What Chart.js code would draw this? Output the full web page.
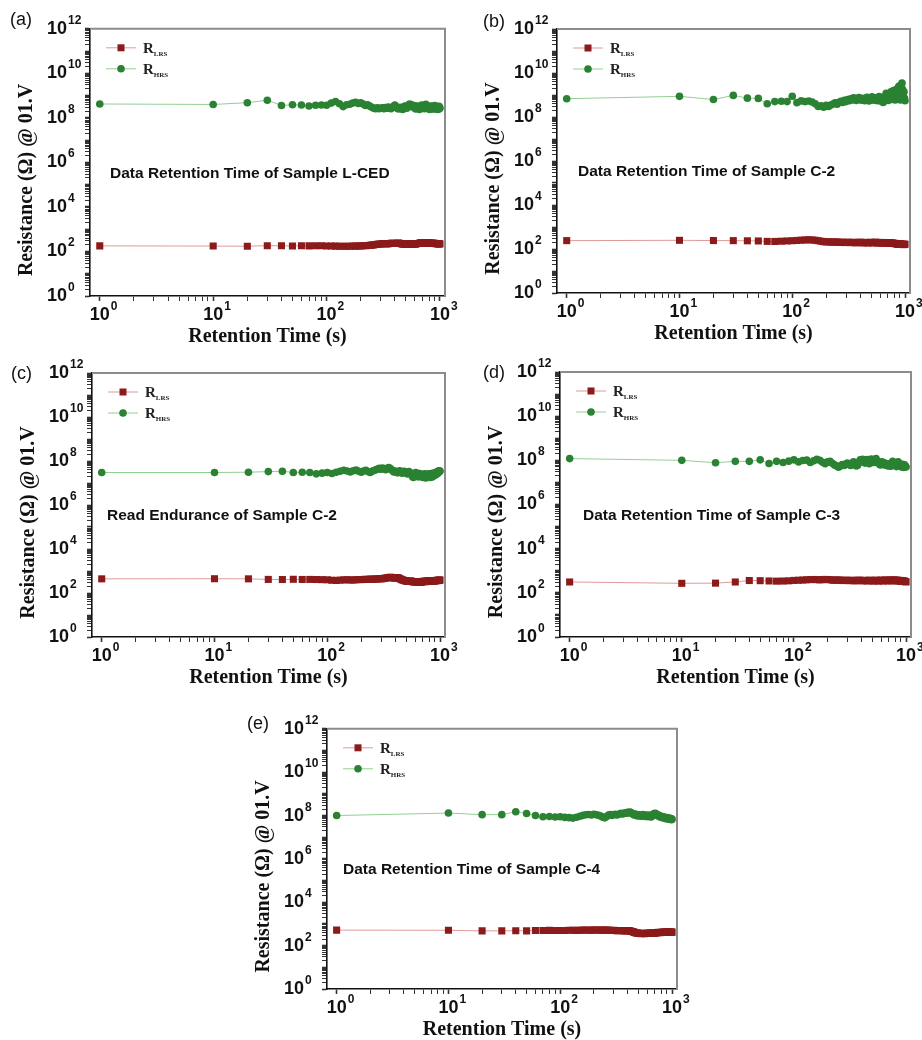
<!DOCTYPE html>
<html>
<head>
<meta charset="utf-8">
<script src="https://cdn.jsdelivr.net/npm/chart.js@4.4.1/dist/chart.umd.min.js"></script>
<style>
body{margin:0;background:#fff;}
#fig{position:relative;width:922px;height:1040px;overflow:hidden;background:#fff;}
#fig canvas{position:absolute;}
.tag{position:absolute;font:18px 'Liberation Sans',Arial,sans-serif;color:#111;line-height:20px;}
</style>
</head>
<body>
<div id="fig">
  <canvas id="cA" width="460" height="350" style="left:0;top:0"></canvas>
  <canvas id="cB" width="462" height="350" style="left:460px;top:0"></canvas>
  <canvas id="cC" width="460" height="350" style="left:0;top:340px"></canvas>
  <canvas id="cD" width="462" height="350" style="left:460px;top:340px"></canvas>
  <canvas id="cE" width="460" height="342" style="left:230px;top:700px"></canvas>
  <div class="tag" style="left:10px;top:9px">(a)</div>
  <div class="tag" style="left:483px;top:11px">(b)</div>
  <div class="tag" style="left:11px;top:363px">(c)</div>
  <div class="tag" style="left:483px;top:362px">(d)</div>
  <div class="tag" style="left:247px;top:713px">(e)</div>
</div>
<script>
// retention time (s)
const times=[1,
  10,20,30,40,50,60,70,80,90,100,
  110,120,130,140,150,160,170,180,190,200,
  210,220,230,240,250,260,270,280,290,300,
  310,320,330,340,350,360,370,380,390,400,
  410,420,430,440,450,460,470,480,490,500,
  510,520,530,540,550,560,570,580,590,600,
  610,620,630,640,650,660,670,680,690,700,
  710,720,730,740,750,760,770,780,790,800,
  810,820,830,840,850,860,870,880,890,900,
  910,920,930,940,950,960,970,980,990,1000];

// (a) sample L-CED
const lrsA=[178,
  175,172,182,180,176,181,178,180,179,177,
  176,174,172,170,171,173,175,174,176,178,
  180,182,185,188,192,198,205,210,214,218,
  222,226,224,220,225,230,234,236,232,228,
  230,235,238,233,226,220,215,212,210,214,
  216,218,215,212,214,218,222,220,216,214,
  218,222,226,230,228,232,238,244,246,242,
  240,248,252,246,242,245,250,244,238,236,
  240,235,230,228,234,238,232,226,230,236,
  228,222,226,230,224,220,225,228,222,218];
const hrsA=[4.2e8,
  4.0e8,4.8e8,6.2e8,3.6e8,3.9e8,3.8e8,3.4e8,3.7e8,3.8e8,3.7e8,
  4.6e8,5.4e8,4.3e8,3.2e8,3.9e8,4.1e8,4.6e8,5.0e8,4.4e8,4.7e8,
  4.2e8,3.6e8,3.9e8,3.4e8,3.0e8,2.7e8,2.6e8,2.8e8,2.6e8,2.7e8,
  2.8e8,2.6e8,2.9e8,2.7e8,3.1e8,2.8e8,2.6e8,3.0e8,3.3e8,3.8e8,
  3.2e8,2.7e8,2.5e8,2.8e8,3.0e8,2.6e8,2.4e8,2.9e8,3.4e8,3.1e8,
  2.7e8,3.3e8,3.9e8,4.2e8,3.6e8,3.9e8,3.4e8,3.0e8,3.6e8,2.8e8,
  2.5e8,2.9e8,3.4e8,3.0e8,2.6e8,2.4e8,2.9e8,3.3e8,3.8e8,3.2e8,
  2.7e8,3.1e8,2.6e8,3.5e8,4.1e8,3.6e8,3.0e8,2.7e8,3.2e8,2.9e8,
  2.4e8,2.8e8,3.4e8,3.0e8,2.6e8,3.3e8,2.8e8,2.5e8,3.1e8,3.6e8,
  2.9e8,2.5e8,2.8e8,3.2e8,2.7e8,2.4e8,2.9e8,3.3e8,2.6e8,2.8e8];

// (b) sample C-2, retention
const lrsB=[240,
  248,242,240,236,232,222,220,226,232,238,
  245,252,258,262,258,250,238,226,215,210,
  212,208,205,210,206,202,204,200,196,200,
  204,198,194,198,202,196,192,196,200,204,
  198,194,190,196,200,194,190,196,202,198,
  194,190,196,200,204,198,192,188,194,198,
  192,188,194,198,192,186,190,196,192,186,
  182,188,192,186,180,184,188,182,178,180,
  176,180,174,170,176,172,168,172,168,165,
  168,164,162,166,160,164,162,158,162,165];
const hrsB=[6.8e8,
  8.7e8,6.2e8,9.6e8,7.2e8,7.0e8,4.0e8,5.0e8,5.2e8,5.0e8,8.8e8,
  4.5e8,5.4e8,5.0e8,5.3e8,4.8e8,4.0e8,3.0e8,3.2e8,2.8e8,3.4e8,
  3.0e8,3.5e8,3.9e8,4.4e8,3.8e8,4.6e8,5.2e8,4.6e8,5.8e8,5.0e8,
  6.2e8,5.5e8,6.8e8,5.9e8,7.4e8,6.3e8,5.6e8,6.9e8,7.6e8,6.5e8,
  5.8e8,7.0e8,6.4e8,5.5e8,6.8e8,7.9e8,6.6e8,5.4e8,6.1e8,7.3e8,
  8.2e8,6.9e8,5.8e8,6.5e8,7.4e8,6.2e8,5.5e8,7.1e8,8.4e8,7.0e8,
  6.0e8,5.1e8,6.4e8,4.6e8,5.8e8,7.0e8,8.8e8,1.2e9,9.5e8,7.0e8,
  5.6e8,8.0e8,6.5e8,1.05e9,1.4e9,9.0e8,6.2e8,1.1e9,1.6e9,1.2e9,
  8.0e8,6.0e8,1.3e9,1.8e9,1.0e9,7.0e8,2.0e9,2.5e9,1.5e9,8.5e8,
  6.0e8,2.2e9,3.0e9,3.5e9,1.8e9,9.0e8,6.5e8,1.4e9,7.0e8,5.5e8];

// (c) sample C-2, read endurance
const lrsC=[440,
  445,440,415,410,420,412,415,410,405,398,
  380,372,385,395,400,392,388,400,410,405,
  412,420,415,425,430,420,432,440,445,438,
  450,462,475,490,505,520,510,498,480,470,
  490,500,480,450,420,400,385,370,360,352,
  345,340,335,348,352,340,330,322,318,325,
  330,320,312,318,325,310,305,312,320,330,
  338,345,332,325,338,350,342,335,348,355,
  360,350,342,355,365,352,345,358,370,362,
  355,368,375,362,370,380,372,385,378,390];
const hrsC=[3.0e7,
  3.0e7,3.1e7,3.3e7,3.4e7,3.0e7,3.1e7,3.0e7,2.6e7,2.8e7,3.0e7,
  2.7e7,3.1e7,3.4e7,3.8e7,3.5e7,3.2e7,3.6e7,3.9e7,3.4e7,3.1e7,
  3.5e7,3.8e7,3.3e7,3.0e7,3.4e7,3.7e7,4.0e7,4.3e7,4.6e7,4.2e7,
  4.8e7,4.4e7,4.0e7,4.5e7,5.0e7,4.6e7,4.1e7,3.6e7,3.2e7,3.5e7,
  3.2e7,2.9e7,3.3e7,3.6e7,3.1e7,2.8e7,3.0e7,3.4e7,3.1e7,2.9e7,
  2.6e7,2.9e7,3.3e7,3.0e7,2.6e7,2.3e7,2.0e7,1.8e7,2.2e7,2.6e7,
  3.0e7,2.5e7,2.1e7,1.9e7,2.3e7,2.7e7,2.2e7,1.9e7,2.4e7,2.1e7,
  1.8e7,2.2e7,2.6e7,2.0e7,1.7e7,2.1e7,2.5e7,2.0e7,2.3e7,2.6e7,
  2.1e7,1.8e7,2.2e7,2.7e7,2.3e7,1.9e7,2.4e7,2.8e7,2.2e7,2.5e7,
  2.9e7,2.4e7,2.8e7,3.2e7,2.7e7,3.4e7,3.0e7,3.6e7,3.3e7,3.5e7];

// (d) sample C-3
const lrsD=[310,
  270,275,310,360,355,345,338,342,350,365,
  372,380,390,398,402,395,388,395,405,400,
  392,380,372,378,385,370,360,368,375,362,
  355,365,372,360,350,358,368,375,366,358,
  350,362,370,358,348,356,366,372,362,352,
  345,355,365,372,364,352,346,358,368,375,
  366,356,348,360,370,378,368,356,350,362,
  372,380,370,358,350,362,374,382,370,360,
  352,364,376,368,356,346,358,366,354,344,
  338,348,356,344,335,342,330,325,320,315];
const hrsD=[1.2e8,
  1.0e8,7.8e7,9.0e7,9.0e7,1.05e8,7.2e7,9.0e7,8.0e7,9.2e7,1.05e8,
  8.5e7,9.8e7,1.02e8,8.0e7,9.5e7,1.1e8,1.0e8,8.2e7,7.0e7,8.5e7,
  9.0e7,7.4e7,6.2e7,5.6e7,4.9e7,5.5e7,6.4e7,5.8e7,6.8e7,7.5e7,
  6.5e7,5.8e7,7.2e7,8.5e7,7.0e7,5.6e7,6.0e7,8.0e7,1.05e8,9.2e7,
  1.1e8,8.4e7,7.5e7,9.6e7,1.08e8,8.2e7,7.0e7,9.5e7,1.15e8,1.0e8,
  8.0e7,9.0e7,1.08e8,1.2e8,9.4e7,7.6e7,8.5e7,7.0e7,6.2e7,7.4e7,
  8.6e7,7.2e7,6.4e7,7.8e7,6.8e7,6.0e7,7.0e7,6.5e7,5.6e7,6.2e7,
  7.0e7,6.0e7,5.4e7,6.6e7,7.8e7,9.0e7,8.0e7,6.4e7,5.8e7,6.8e7,
  6.0e7,5.2e7,6.4e7,7.2e7,8.6e7,7.4e7,6.2e7,5.6e7,6.5e7,5.4e7,
  5.0e7,5.8e7,6.6e7,5.2e7,4.8e7,5.6e7,6.2e7,5.0e7,5.4e7,5.0e7];

// (e) sample C-4
const lrsE=[520,
  510,480,480,490,480,500,495,505,500,498,
  502,508,512,505,510,518,522,515,520,526,
  530,522,515,520,528,520,512,505,498,505,
  500,494,488,495,500,492,486,480,488,495,
  490,478,465,450,430,410,395,385,380,372,
  368,362,358,365,370,362,355,360,368,374,
  370,365,372,378,372,365,370,378,385,380,
  388,395,402,396,405,412,406,398,404,410,
  402,410,418,412,405,414,420,412,406,416,
  420,412,418,424,416,410,418,422,414,420];
const hrsE=[1.0e8,
  1.3e8,1.1e8,1.1e8,1.5e8,1.25e8,1.0e8,8.8e7,9.0e7,8.6e7,8.8e7,
  8.2e7,8.0e7,7.6e7,8.4e7,9.2e7,1.02e8,1.08e8,1.12e8,1.06e8,1.14e8,
  1.08e8,1.02e8,9.4e7,8.4e7,7.8e7,9.0e7,1.04e8,1.1e8,1.02e8,1.08e8,
  1.14e8,1.06e8,1.12e8,1.2e8,1.26e8,1.18e8,1.24e8,1.32e8,1.28e8,1.4e8,
  1.32e8,1.44e8,1.36e8,1.24e8,1.12e8,1.06e8,1.18e8,1.04e8,9.6e7,1.02e8,
  1.08e8,9.8e7,9.2e7,1.04e8,1.1e8,9.6e7,9.0e7,9.8e7,1.06e8,9.4e7,
  8.8e7,9.6e7,1.04e8,9.2e7,8.6e7,9.4e7,1.02e8,1.12e8,1.24e8,1.16e8,
  1.28e8,1.14e8,1.02e8,1.1e8,1.02e8,9.2e7,1.0e8,9.0e7,8.4e7,9.2e7,
  8.6e7,8.0e7,8.8e7,8.2e7,7.6e7,8.4e7,7.8e7,7.2e7,7.6e7,8.0e7,
  7.4e7,7.0e7,7.6e7,7.2e7,6.8e7,7.4e7,6.6e7,7.0e7,6.4e7,6.8e7];

// tick labels (powers of ten)
const xLabelExps=[0,1,2,3];
const yLabelExps=[0,2,4,6,8,10,12];

const isDecade=v=>Math.abs(Math.log10(v)-Math.round(Math.log10(v)))<1e-6;

const LRS_DOT='#8b1a1a', LRS_LINE='rgba(214,120,120,0.75)';
const HRS_DOT='#2a8232', HRS_LINE='rgba(110,190,110,0.75)';
const SANS="'Liberation Sans', Arial, sans-serif";
const SERIF="'Liberation Serif', 'Times New Roman', serif";

function logTicks(lo,hi){
  const out=[];
  for(let e=lo;e<hi;e++) for(let m=1;m<10;m++) out.push(m*Math.pow(10,e));
  out.push(Math.pow(10,hi));
  return out;
}

const framePlugin={id:'frame',afterDraw(c){
  const {ctx,chartArea:a}=c;
  ctx.save();
  ctx.strokeStyle='#8c8c8c';ctx.lineWidth=2;
  ctx.beginPath();ctx.moveTo(a.left,a.top);ctx.lineTo(a.right,a.top);ctx.lineTo(a.right,a.bottom);ctx.stroke();
  ctx.restore();
}};

// exponents next to the "10" tick labels
const expoPlugin={id:'expo',afterDraw(c){
  const ctx=c.ctx;
  ctx.save();
  ['x','y'].forEach(k=>{
    const s=c.scales[k];
    s.getLabelItems().forEach(it=>{
      if(it.label!=='10') return;
      const [tx,ty]=it.options.translation;
      const v=s.getValueForPixel(k==='x'?tx:ty);
      const e=Math.round(Math.log10(v));
      ctx.font=it.font.string;
      ctx.textBaseline=it.options.textBaseline;
      const m=ctx.measureText('10');
      const glyphTop=ty+it.textOffset-m.actualBoundingBoxAscent;
      const right=it.options.textAlign==='center'?tx+m.width/2:tx;
      ctx.font='bold 12px '+SANS;
      ctx.textBaseline='alphabetic';ctx.textAlign='left';ctx.fillStyle='#111';
      ctx.fillText(String(e),right+1,glyphTop+3);
    });
  });
  ctx.restore();
}};

const keyPlugin={id:'key',afterDraw(c){
  const {ctx,chartArea:a}=c;
  ctx.save();
  c.data.datasets.forEach((ds,i)=>{
    const y=a.top+19+i*21, x0=a.left+16;
    ctx.strokeStyle=ds.borderColor;ctx.lineWidth=1;
    ctx.beginPath();ctx.moveTo(x0,y);ctx.lineTo(x0+30,y);ctx.stroke();
    ctx.fillStyle=ds.pointBackgroundColor;
    if(ds.pointStyle==='rect'){ctx.fillRect(x0+11.5,y-3.5,7,7);}
    else{ctx.beginPath();ctx.arc(x0+15,y,3.8,0,Math.PI*2);ctx.fill();}
    ctx.fillStyle='#222';ctx.textBaseline='alphabetic';
    ctx.font='bold 15px '+SERIF;
    ctx.fillText('R',x0+37,y+5);
    const w=ctx.measureText('R').width;
    ctx.font='bold 7px '+SERIF;
    ctx.fillText(ds.label,x0+37+w,y+8);
  });
  ctx.restore();
}};

const notePlugin={id:'note',afterDraw(c,args,opts){
  const {ctx,chartArea:a,scales}=c;
  ctx.save();
  ctx.font='bold 15.5px '+SANS;ctx.fillStyle='#111';ctx.textBaseline='middle';
  ctx.fillText(opts.text,a.left+opts.dx,scales.y.getPixelForValue(Math.pow(10,5.5)));
  ctx.restore();
}};

const panels=[
  {id:'cA',lrs:lrsA,hrs:hrsA,note:'Data Retention Time of Sample L-CED',dx:20,pad:{left:0,top:27,right:15,bottom:1}},
  {id:'cB',lrs:lrsB,hrs:hrsB,note:'Data Retention Time of Sample C-2',dx:21,pad:{left:7,top:29,right:12,bottom:4}},
  {id:'cC',lrs:lrsC,hrs:hrsC,note:'Read Endurance of Sample C-2',dx:15,pad:{left:2,top:33,right:15,bottom:0}},
  {id:'cD',lrs:lrsD,hrs:hrsD,note:'Data Retention Time of Sample C-3',dx:23,pad:{left:10,top:32,right:11,bottom:0}},
  {id:'cE',lrs:lrsE,hrs:hrsE,note:'Data Retention Time of Sample C-4',dx:16,pad:{left:7,top:24,right:13,bottom:0}}
];

const xTickVals=logTicks(0,3), yTickVals=logTicks(0,12);

panels.forEach(p=>{
  const pts=arr=>times.map((t,i)=>({x:t,y:arr[i]}));
  new Chart(document.getElementById(p.id),{
    type:'line',
    data:{datasets:[
      {label:'LRS',data:pts(p.lrs),borderColor:LRS_LINE,borderWidth:1,pointStyle:'rect',pointRadius:5,
        pointBackgroundColor:LRS_DOT,pointBorderWidth:0,pointHoverRadius:5},
      {label:'HRS',data:pts(p.hrs),borderColor:HRS_LINE,borderWidth:1,pointStyle:'circle',pointRadius:3.8,
        pointBackgroundColor:HRS_DOT,pointBorderWidth:0,pointHoverRadius:3.8}
    ]},
    options:{
      responsive:false,animation:false,events:[],
      layout:{padding:p.pad},
      plugins:{legend:{display:false},tooltip:{enabled:false},note:{text:p.note,dx:p.dx}},
      scales:{
        x:{type:'logarithmic',min:0.82,max:1107,
          afterBuildTicks:s=>{s.ticks=xTickVals.map(v=>({value:v}));},
          afterFit:s=>{s.height=53;},
          ticks:{autoSkip:false,maxRotation:0,padding:3,color:'#111',
            font:{family:SANS,size:18,weight:'bold'},
            callback:v=>isDecade(v)&&xLabelExps.includes(Math.round(Math.log10(v)))?'10':''},
          grid:{drawOnChartArea:false,drawTicks:true,tickLength:5,tickColor:'#333',tickWidth:c=>isDecade(c.tick.value)?1.6:1},
          border:{display:true,color:'#111',width:1.6},
          title:{display:true,text:'Retention Time (s)',color:'#111',padding:{top:0,bottom:0},
            font:{family:SERIF,size:20,weight:'bold'}}
        },
        y:{type:'logarithmic',min:1,max:1e12,
          afterBuildTicks:s=>{s.ticks=yTickVals.map(v=>({value:v}));},
          afterFit:s=>{s.width=90;},
          ticks:{autoSkip:false,padding:18,color:'#111',
            font:{family:SANS,size:18,weight:'bold'},
            callback:v=>isDecade(v)&&yLabelExps.includes(Math.round(Math.log10(v)))?'10':''},
          grid:{drawOnChartArea:false,drawTicks:true,tickLength:5,tickColor:'#333',tickWidth:c=>isDecade(c.tick.value)?1.6:1},
          border:{display:true,color:'#111',width:1.6},
          title:{display:true,text:'Resistance (\u03a9) @ 01.V       ',color:'#111',padding:{top:15,bottom:0},
            font:{family:SERIF,size:20,weight:'bold'}}
        }
      }
    },
    plugins:[framePlugin,expoPlugin,keyPlugin,notePlugin]
  });
});
</script>
</body>
</html>
